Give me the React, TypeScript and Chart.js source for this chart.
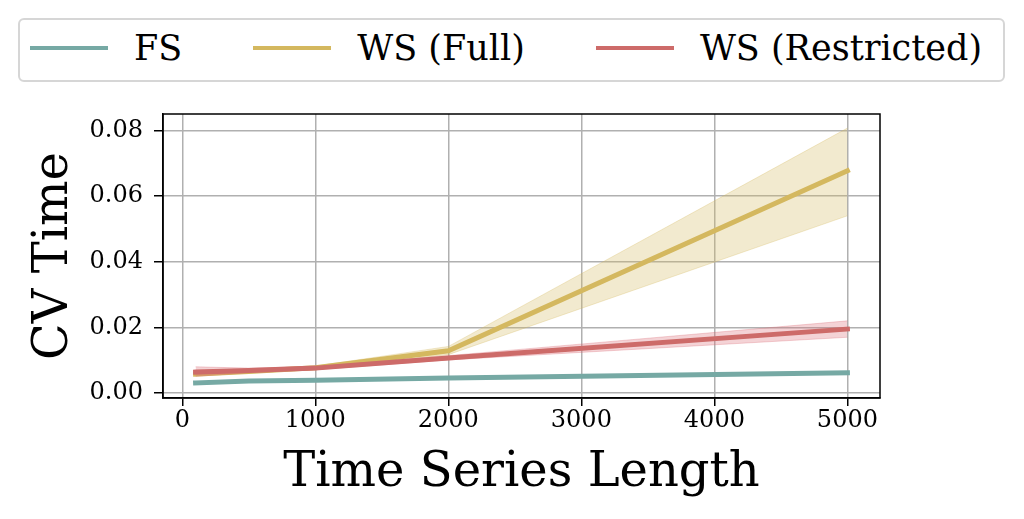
import React, { useRef, useEffect } from 'react';
import { Chart, registerables } from 'chart.js';

Chart.register(...registerables);

const FONT = 'DejaVu Serif';

// series lengths on the x axis
const lengths = [100, 500, 1000, 2000, 5000];

// mean CV time per method
const fsTime = [0.0031, 0.0037, 0.0039, 0.0046, 0.0062];
const wsFullTime = [0.0058, 0.0066, 0.0077, 0.0129, 0.0677];
const wsResTime = [0.0064, 0.0069, 0.0076, 0.0107, 0.0195];

// spread bands
const wsFullLow = [0.0052, 0.0061, 0.0072, 0.0117, 0.054];
const wsFullHigh = [0.0064, 0.0071, 0.0082, 0.0142, 0.0807];
const wsResLow = [0.0051, 0.0062, 0.0071, 0.0101, 0.017];
const wsResHigh = [0.008, 0.0076, 0.0081, 0.0114, 0.022];

const seriesNames = ['FS', 'WS (Full)', 'WS (Restricted)'];
const seriesColors = ['#76a9a4', '#d4b85f', '#cd6b69'];
const bandColors = ['rgba(118,169,164,0.3)', 'rgba(212,184,95,0.3)', 'rgba(220,110,120,0.3)'];

const xTicks = [0, 1000, 2000, 3000, 4000, 5000];
const yTicks = [0, 0.02, 0.04, 0.06, 0.08];

const pts = (ys: number[]) => lengths.map((x, i) => ({ x, y: ys[i] }));

const lineDs = (label: string, ys: number[], color: string) => ({
  label,
  data: pts(ys),
  borderColor: color,
  backgroundColor: color,
  borderWidth: 5,
  borderCapStyle: 'square' as const,
  pointRadius: 0,
  fill: false,
  tension: 0,
});

const bandDs = (ys: number[], color: string, fill: any) => ({
  label: '',
  data: pts(ys),
  borderColor: color,
  backgroundColor: color,
  borderWidth: 1,
  pointRadius: 0,
  fill,
  tension: 0,
});

// top/right spines
const framePlugin = {
  id: 'frame',
  afterDraw(chart: Chart) {
    const { ctx, chartArea } = chart;
    ctx.save();
    ctx.strokeStyle = '#000';
    ctx.lineWidth = 1.5;
    ctx.strokeRect(chartArea.left, chartArea.top, chartArea.right - chartArea.left, chartArea.bottom - chartArea.top);
    ctx.restore();
  },
};

const CvChart: React.FC = () => {
  const canvasRef = useRef<HTMLCanvasElement>(null);
  const chartRef = useRef<Chart | null>(null);

  useEffect(() => {
    if (!canvasRef.current) return;
    const ctx = canvasRef.current.getContext('2d');
    if (!ctx) return;

    chartRef.current = new Chart(ctx, {
      type: 'line',
      data: {
        datasets: [
          lineDs(seriesNames[2], wsResTime, seriesColors[2]),
          bandDs(wsResLow, bandColors[2], { target: 2 }),
          bandDs(wsResHigh, bandColors[2], false),
          lineDs(seriesNames[1], wsFullTime, seriesColors[1]),
          bandDs(wsFullLow, bandColors[1], { target: 5 }),
          bandDs(wsFullHigh, bandColors[1], false),
          lineDs(seriesNames[0], fsTime, seriesColors[0]),
        ] as any,
      },
      options: {
        responsive: false,
        animation: false,
        events: [],
        layout: { padding: { top: 114, right: 144, left: 0, bottom: 0 } },
        plugins: {
          legend: { display: false },
          tooltip: { enabled: false },
        },
        scales: {
          x: {
            type: 'linear',
            min: -145,
            max: 5245,
            afterFit: (s: any) => { s.height = 121; },
            afterBuildTicks: (s: any) => { s.ticks = xTicks.map((value) => ({ value })); },
            grid: { color: '#b0b0b0', lineWidth: 1.5, tickColor: '#000', tickLength: 8, tickWidth: 1.5 },
            border: { color: '#000', width: 1.5 },
            ticks: { font: { family: FONT, size: 24 }, color: '#000', padding: 0, callback: (v: any) => String(v) },
            title: { display: true, text: 'Time Series Length', font: { family: FONT, size: 48 }, color: '#000', padding: { top: 0, bottom: 17 } },
          },
          y: {
            type: 'linear',
            min: -0.0015,
            max: 0.085,
            afterFit: (s: any) => { s.width = 163; },
            afterBuildTicks: (s: any) => { s.ticks = yTicks.map((value) => ({ value })); },
            grid: { color: '#b0b0b0', lineWidth: 1.5, tickColor: '#000', tickLength: 9, tickWidth: 1.5 },
            border: { color: '#000', width: 1.5 },
            ticks: { font: { family: FONT, size: 24 }, color: '#000', padding: 11, callback: (v: any) => Number(v).toFixed(2) },
            title: { display: true, text: 'CV Time', font: { family: FONT, size: 48 }, color: '#000', padding: { top: 26, bottom: 0 } },
          },
        },
      },
      plugins: [framePlugin],
    });

    return () => {
      if (chartRef.current) {
        chartRef.current.destroy();
        chartRef.current = null;
      }
    };
  }, []);

  return <canvas ref={canvasRef} width={1024} height={519} style={{ position: 'absolute', left: 0, top: 0 }} />;
};

const Legend: React.FC = () => (
  <div
    style={{
      position: 'absolute',
      left: 18,
      top: 18,
      width: 987,
      height: 64,
      boxSizing: 'border-box',
      border: '2px solid #d6d6d6',
      borderRadius: 6,
      background: '#fff',
      display: 'flex',
      alignItems: 'center',
      paddingLeft: 10,
      paddingBottom: 4,
      gap: 71,
      fontFamily: FONT,
      fontSize: 35,
      color: '#000',
      zIndex: 1,
    }}
  >
    {seriesNames.map((name, i) => (
      <div key={name} style={{ display: 'flex', alignItems: 'center', whiteSpace: 'nowrap' }}>
        <span style={{ display: 'inline-block', width: 78, height: 4, background: seriesColors[i], marginRight: 26 }} />
        <span style={{ lineHeight: '40px' }}>{name}</span>
      </div>
    ))}
  </div>
);

export default function App() {
  return (
    <div style={{ position: 'absolute', left: 0, top: 0, width: 1024, height: 519, background: '#fff' }}>
      <CvChart />
      <Legend />
    </div>
  );
}
